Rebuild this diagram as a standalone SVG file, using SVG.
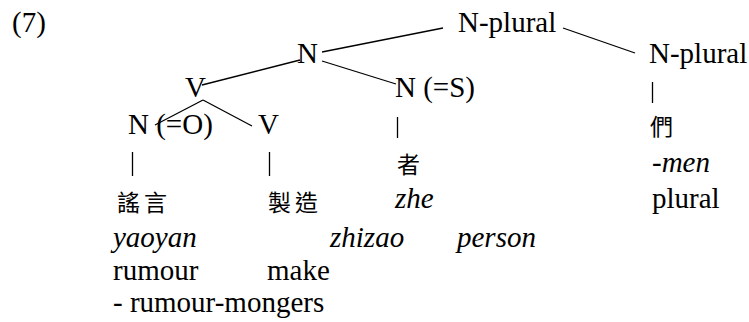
<svg xmlns="http://www.w3.org/2000/svg" width="749" height="322" viewBox="0 0 749 322">
<style>
.t{font-family:'Liberation Serif','Times New Roman',serif;font-size:29px;fill:#000}
.i{font-style:italic}
.cjk{font-family:'Noto Sans CJK TC','Noto Sans CJK SC',sans-serif;font-size:23px;letter-spacing:4px;fill:#000}
.c line{stroke:#000;stroke-width:1.3}
</style>
<rect width="749" height="322" fill="#fff"/>
<text class="t" x="12" y="32">(7)</text>
<g id="connectors" class="c">
<line x1="322" y1="52" x2="443" y2="28"/>
<line x1="563" y1="28" x2="635" y2="53"/>
<line x1="300" y1="60" x2="202" y2="85"/>
<line x1="322" y1="61" x2="396" y2="84"/>
<line x1="203" y1="100" x2="155" y2="125"/>
<line x1="203" y1="100" x2="252" y2="126"/>
<line x1="652.5" y1="82" x2="652.5" y2="103"/>
<line x1="397.5" y1="117" x2="397.5" y2="138"/>
<line x1="132.5" y1="152" x2="132.5" y2="176"/>
<line x1="269.5" y1="152" x2="269.5" y2="176"/>
</g>
<g id="n-plural-top"><text class="t" x="458" y="32">N-plural</text></g>
<g id="n"><text class="t" x="297" y="63">N</text></g>
<g id="n-plural-right"><text class="t" x="649" y="63">N-plural</text><text class="cjk" x="650" y="135">們</text><text class="t i" x="652" y="172">-men</text><text class="t" x="652" y="208">plural</text></g>
<g id="v-upper"><text class="t" x="185" y="97">V</text></g>
<g id="n-s"><text class="t" x="395" y="97">N (=S)</text><text class="cjk" x="397" y="173">者</text><text class="t i" x="395" y="208">zhe</text></g>
<g id="n-o"><text class="t" x="128" y="134">N (=O)</text><text class="cjk" x="117" y="211">謠言</text></g>
<g id="v-lower"><text class="t" x="258" y="134">V</text><text class="cjk" x="268" y="211">製造</text></g>
<g id="gloss">
<text class="t i" x="113" y="247">yaoyan</text>
<text class="t i" x="330" y="247">zhizao</text>
<text class="t i" x="457" y="247">person</text>
<text class="t" x="113" y="280">rumour</text>
<text class="t" x="267" y="280">make</text>
<text class="t" x="113" y="312">- rumour-mongers</text>
</g>
</svg>
